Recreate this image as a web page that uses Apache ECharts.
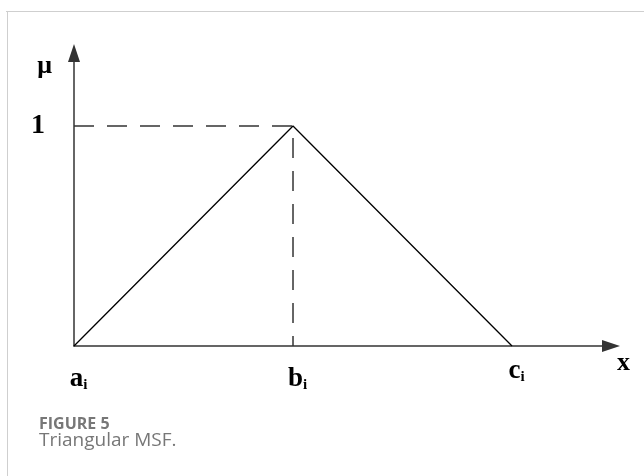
<!DOCTYPE html>
<html>
<head>
<meta charset="utf-8">
<script src="https://cdn.jsdelivr.net/npm/echarts@6/dist/echarts.min.js"></script>
<style>
  html, body { margin: 0; padding: 0; background: #fff; }
  #main { width: 644px; height: 476px; }
</style>
</head>
<body>
<div id="main"></div>
<script>
// 三角形隶属函数的数据
var triX = [0, 1, 2];          // a_i, b_i, c_i
var triY = [0, 1, 0];          // mu
var guideX = [0, 1, 1];        // 虚线 (1 到 b_i)
var guideY = [1, 1, 0];
var xTickNames = ['a', 'b', 'c'];
var yTickNames = ['1'];

var serif = '"Liberation Serif", "DejaVu Serif", serif';
var sans = '"Open Sans", "Noto Sans", sans-serif';

function pairs(xs, ys) {
  var out = [];
  for (var i = 0; i < xs.length; i++) out.push([xs[i], ys[i]]);
  return out;
}

var myChart = echarts.init(document.getElementById('main'));

var option = {
  backgroundColor: '#fff',
  animation: false,
  grid: { left: 74, top: 53, width: 537, height: 293 },
  xAxis: {
    type: 'value',
    min: 0, max: 2.452, interval: 1,
    splitLine: { show: false },
    axisTick: { show: false },
    axisLine: {
      lineStyle: { color: '#333', width: 1.5 },
      symbol: ['none', 'triangle'],
      symbolSize: [12, 18]
    },
    axisLabel: {
      margin: 12,
      padding: [0, 0, 0, 9],
      showMaxLabel: false,
      formatter: function (v) {
        var n = xTickNames[Math.round(v)];
        if (n === undefined || Math.abs(v - Math.round(v)) > 1e-6) return '';
        return n === 'c' ? '{up|' + n + '}{upi|i}' : '{m|' + n + '}{i|i}';
      },
      rich: {
        m: { fontFamily: serif, fontWeight: 'bold', fontSize: 27, color: '#000', verticalAlign: 'bottom', padding: [8, 0, 0, 0] },
        i: { fontFamily: serif, fontWeight: 'bold', fontSize: 15, color: '#000', verticalAlign: 'bottom', padding: [8, 0, 0, 0] },
        up: { fontFamily: serif, fontWeight: 'bold', fontSize: 27, color: '#000', verticalAlign: 'bottom' },
        upi: { fontFamily: serif, fontWeight: 'bold', fontSize: 15, color: '#000', verticalAlign: 'bottom' }
      }
    },
    name: 'x',
    nameLocation: 'end',
    nameGap: 6,
    nameTextStyle: { fontFamily: serif, fontWeight: 'bold', fontSize: 26, color: '#000', align: 'left', verticalAlign: 'top', padding: [4, 0, 0, 0] }
  },
  yAxis: {
    type: 'value',
    min: 0, max: 1.332, interval: 1,
    splitLine: { show: false },
    axisTick: { show: false },
    axisLine: {
      lineStyle: { color: '#333', width: 1.5 },
      symbol: ['none', 'triangle'],
      symbolSize: [12, 18]
    },
    axisLabel: {
      margin: 29,
      padding: [6, 0, 0, 0],
      showMaxLabel: false,
      fontFamily: serif, fontWeight: 'bold', fontSize: 28, color: '#000',
      formatter: function (v) {
        if (v === 1) return yTickNames[0];
        return '';
      }
    },
    name: 'μ',
    nameLocation: 'end',
    nameGap: -26,
    nameTextStyle: { fontFamily: serif, fontWeight: 'bold', fontSize: 26, color: '#000', align: 'right', verticalAlign: 'bottom', padding: [0, 22, 0, 0] }
  },
  series: [
    {
      type: 'line',
      data: pairs(guideX, guideY),
      symbol: 'none',
      lineStyle: { color: '#333', width: 1.5, type: [20, 13] },
      z: 1
    },
    {
      type: 'line',
      data: pairs(triX, triY),
      symbol: 'none',
      lineStyle: { color: '#000', width: 1.3 },
      z: 2
    }
  ],
  graphic: [
    { type: 'line', shape: { x1: 6, y1: 11.5, x2: 644, y2: 11.5 }, style: { stroke: '#cfcfcf', lineWidth: 1 } },
    { type: 'line', shape: { x1: 7.5, y1: 11, x2: 7.5, y2: 476 }, style: { stroke: '#cfcfcf', lineWidth: 1 } },
    {
      type: 'text', left: 39, top: 416,
      style: { text: 'FIGURE 5', fontFamily: sans, fontWeight: 'bold', fontSize: 16, fill: '#777' }
    },
    {
      type: 'text', left: 39, top: 431,
      style: { text: 'Triangular MSF.', fontFamily: sans, fontSize: 19, fill: '#777' }
    }
  ]
};

myChart.setOption(option);
</script>
</body>
</html>
